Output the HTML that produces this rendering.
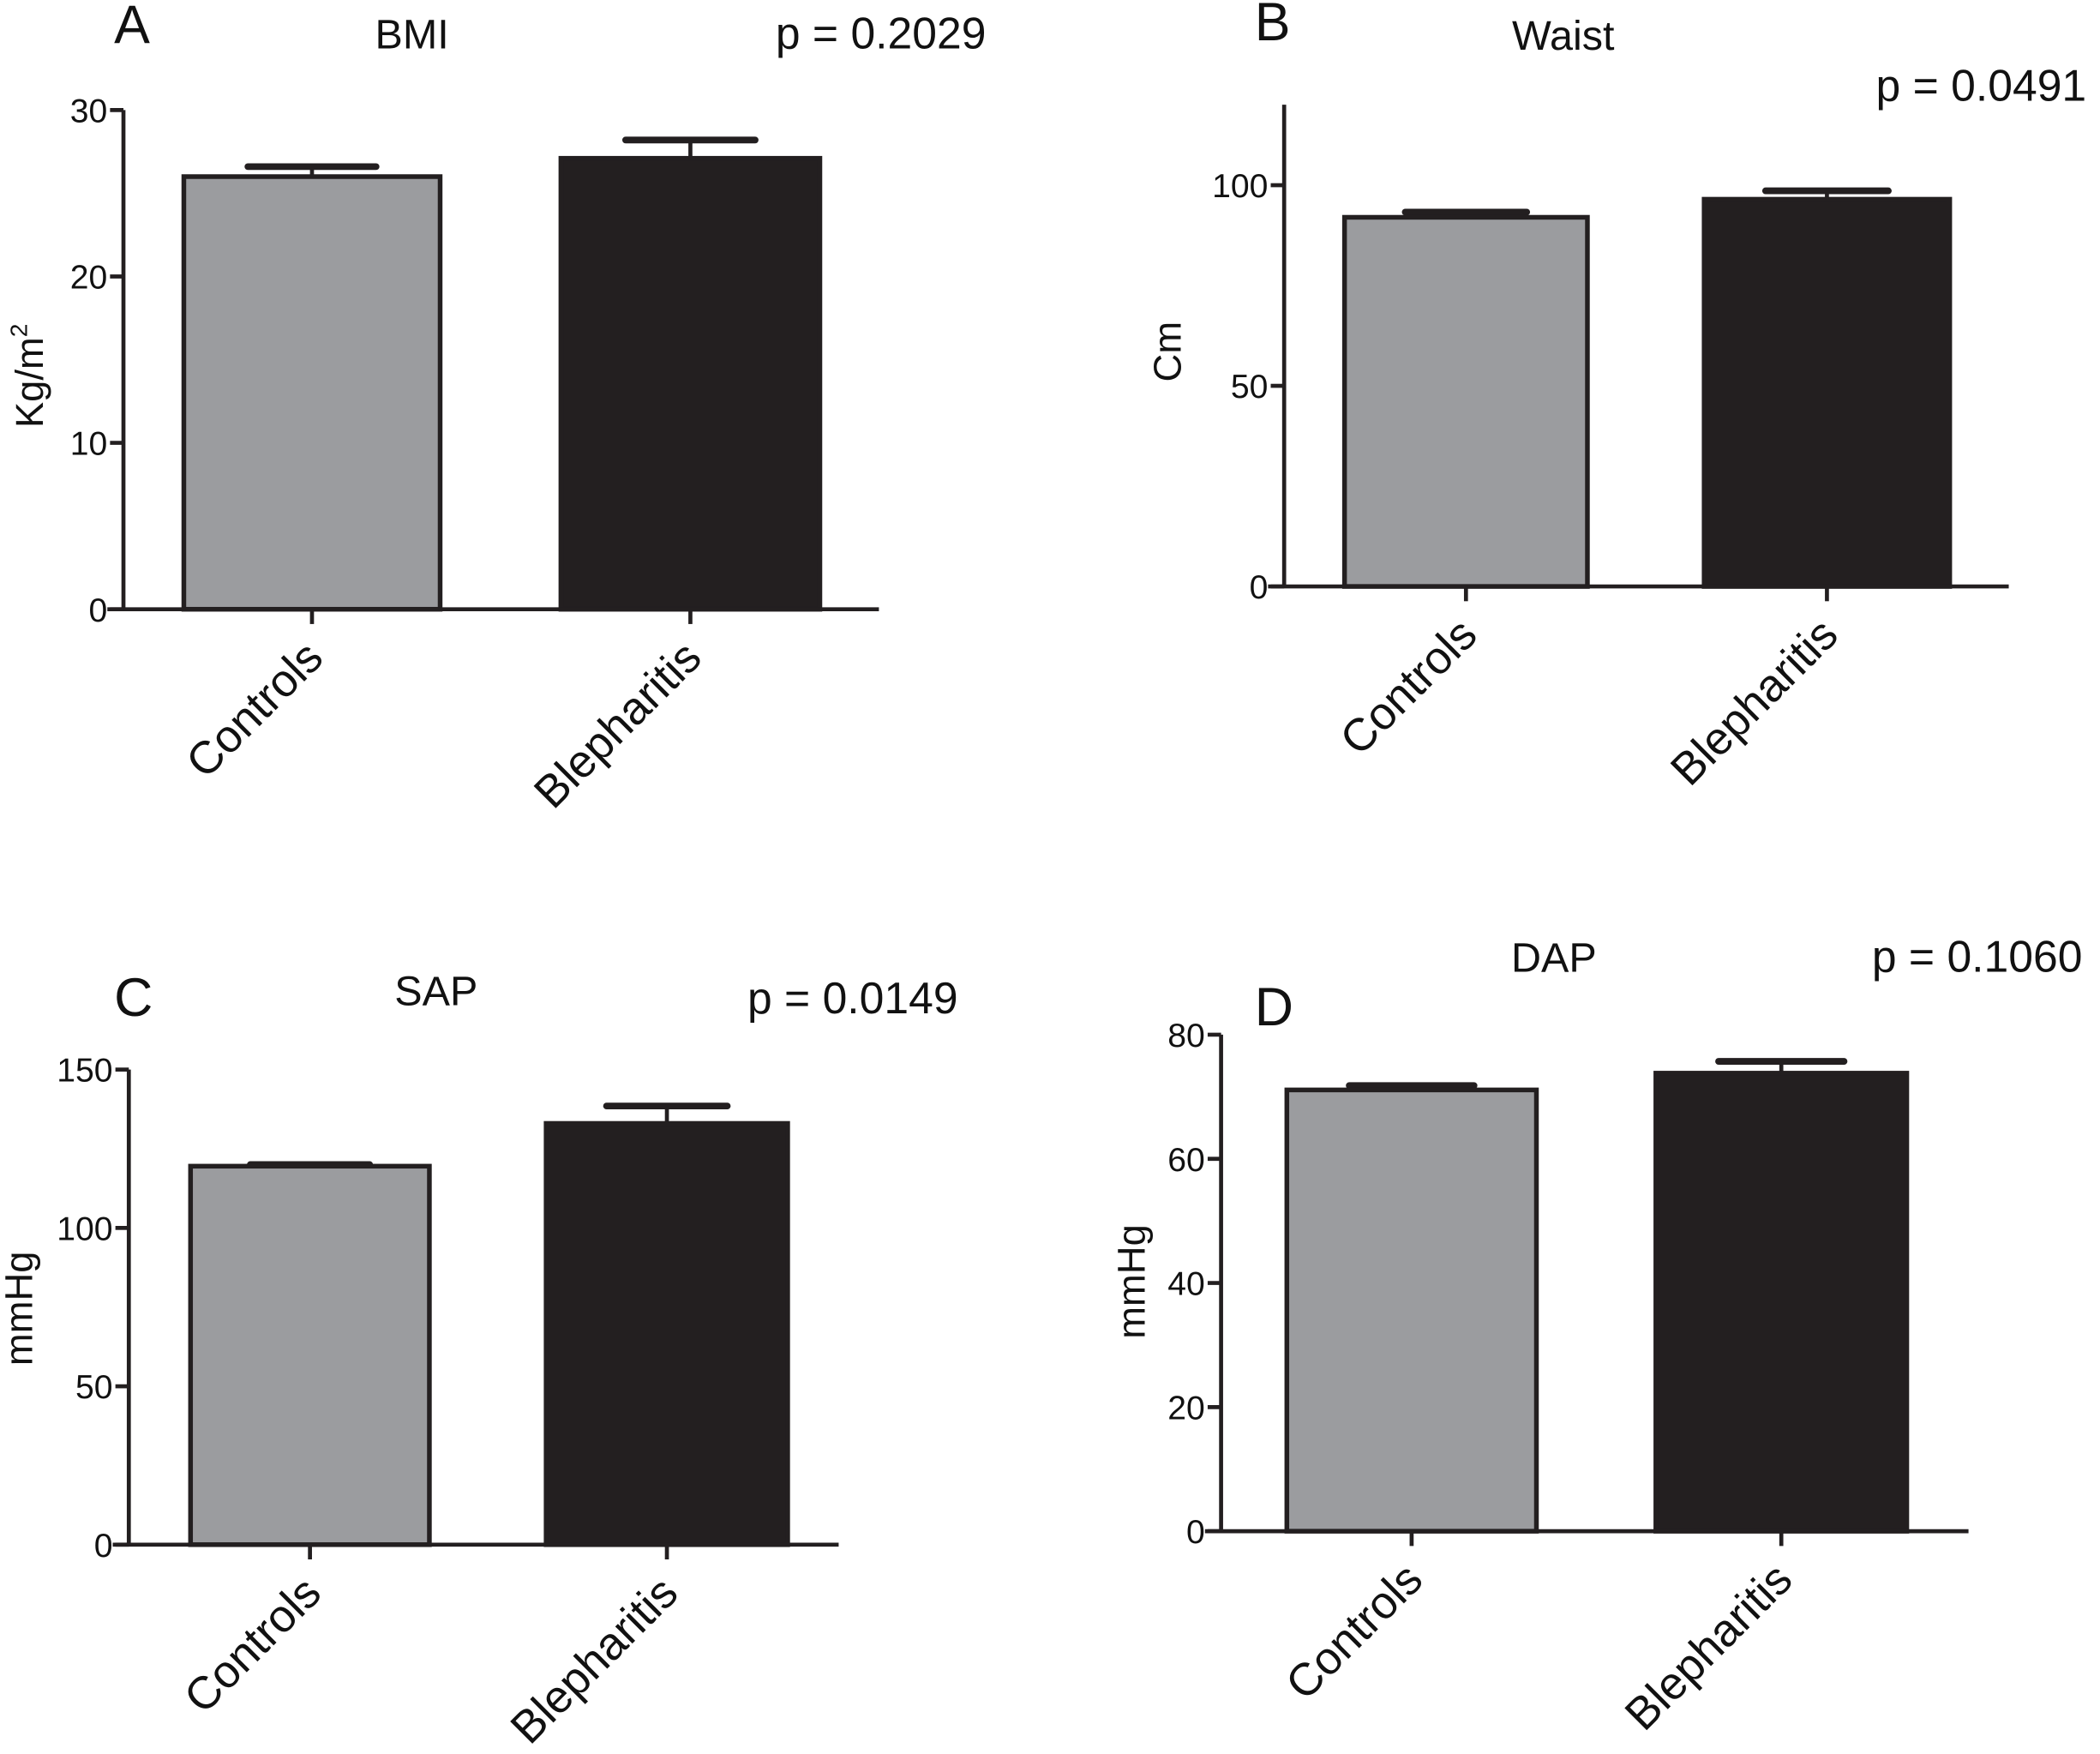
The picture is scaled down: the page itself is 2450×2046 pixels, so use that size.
<!DOCTYPE html>
<html><head><meta charset="utf-8"><style>
html,body{margin:0;padding:0;background:#fff}
svg{display:block}
text{font-family:"Liberation Sans",Arial,sans-serif;fill:#111}
</style></head><body>
<svg id="fig" width="2450" height="2046" viewBox="0 0 1565 1307" preserveAspectRatio="none" xmlns="http://www.w3.org/2000/svg"></svg>
<script>
const categories = ["Controls", "Blepharitis"];
const bmiValues = [26.0, 27.1];
const bmiErrors = [0.6, 1.1];
const waistValues = [92.0, 96.5];
const waistErrors = [1.3, 2.1];
const sapValues = [119.5, 133.0];
const sapErrors = [0.5, 5.5];
const dapValues = [71.1, 73.8];
const dapErrors = [0.7, 1.9];
const bmiTicks = [0, 10, 20, 30];
const waistTicks = [0, 50, 100];
const sapTicks = [0, 50, 100, 150];
const dapTicks = [0, 20, 40, 60, 80];

const panels = [
 {id:"bmi", letter:"A", title:"BMI", p:"p = 0.2029", ytitle:"Kg/m", sup:"2", values:bmiValues, errors:bmiErrors, ticks:bmiTicks, ymax:30,
  ax:92, y0:454, ytop:82, axTop:82, xEnd:655, bars:[[137,328],[418,611]], letterPos:[85,32], titlePos:[307,36], pPos:[578,36], ytPos:[32,280]},
 {id:"waist", letter:"B", title:"Waist", p:"p = 0.0491", ytitle:"Cm", values:waistValues, errors:waistErrors, ticks:waistTicks, ymax:100,
  ax:957, y0:437, ytop:138, axTop:78, xEnd:1497, bars:[[1002,1183],[1270,1453]], letterPos:[935,30], titlePos:[1165,37], pPos:[1398,75], ytPos:[880,262]},
 {id:"sap", letter:"C", title:"SAP", p:"p = 0.0149", ytitle:"mmHg", values:sapValues, errors:sapErrors, ticks:sapTicks, ymax:150,
  ax:96, y0:1151, ytop:797, axTop:797, xEnd:625, bars:[[142,320],[407,587]], letterPos:[85,757], titlePos:[325,749], pPos:[557,755], ytPos:[24,975]},
 {id:"dap", letter:"D", title:"DAP", p:"p = 0.1060", ytitle:"mmHg", values:dapValues, errors:dapErrors, ticks:dapTicks, ymax:80,
  ax:910, y0:1141, ytop:771, axTop:771, xEnd:1467, bars:[[959,1145],[1234,1421]], letterPos:[935,764], titlePos:[1158,724], pPos:[1395,724], ytPos:[853,955]}
];
const colors = ["#9b9c9f", "#231f20"];
const NS = "http://www.w3.org/2000/svg";
const svg = document.getElementById("fig");
function mk(tag, attrs, parent, txt){
  const e = document.createElementNS(NS, tag);
  for (const k in attrs) e.setAttribute(k, attrs[k]);
  if (txt !== undefined) e.textContent = txt;
  parent.appendChild(e); return e;
}
panels.forEach(pn => {
  const g = mk("g", {}, svg);
  
  
  const yScale = v => pn.y0 - (v / pn.ymax) * (pn.y0 - pn.ytop);
  let t;
  t = mk("text", {x:pn.letterPos[0], y:pn.letterPos[1], "font-size":40}, g, pn.letter);
  
  
  t = mk("text", {x:pn.titlePos[0], y:pn.titlePos[1], "font-size":31, "text-anchor":"middle"}, g, pn.title);
  
  
  t = mk("text", {x:pn.pPos[0], y:pn.pPos[1], "font-size":33}, g, pn.p);
  
  
  t = mk("text", {x:pn.ytPos[0], y:pn.ytPos[1], "font-size":29, "text-anchor":"middle", transform:`rotate(-90 ${pn.ytPos[0]} ${pn.ytPos[1]})`}, g, pn.ytitle);
  if (pn.sup) mk("tspan", {"font-size":18, dy:-12}, t, pn.sup);
  
  
  pn.bars.forEach((b, i) => {
    const v = pn.values[i], e = pn.errors[i];
    const cx = (b[0] + b[1]) / 2, top = yScale(v), et = yScale(v + e);
    const w = (b[1] - b[0]) * 0.5;
    const el = mk("line", {x1:cx, x2:cx, y1:top, y2:et, stroke:"#231f20", "stroke-width":3}, g);
    
    
    const cap = mk("line", {x1:cx - w/2, x2:cx + w/2, y1:et, y2:et, stroke:"#231f20", "stroke-width":5, "stroke-linecap":"round"}, g);
    
    
    const r = mk("rect", {x:b[0], y:top, width:b[1]-b[0], height:pn.y0-top, fill:colors[i], stroke:"#231f20", "stroke-width":3.5}, g);
    
    
    const tk = mk("line", {x1:cx, x2:cx, y1:pn.y0, y2:pn.y0+11, stroke:"#231f20", "stroke-width":3}, g);
    
    
    const lx = cx + 10, ly = pn.y0 + 38;
    const lab = mk("text", {x:lx, y:ly, "font-size":34, "text-anchor":"end", transform:`rotate(-45 ${lx} ${ly})`}, g, categories[i]);
    
    
  });
  let a = mk("line", {x1:pn.ax, x2:pn.ax, y1:pn.axTop, y2:pn.y0, stroke:"#231f20", "stroke-width":3}, g);
  
  
  a = mk("line", {x1:pn.ax - 12, x2:pn.xEnd, y1:pn.y0, y2:pn.y0, stroke:"#231f20", "stroke-width":3}, g);
  
  
  pn.ticks.forEach(tv => {
    const y = yScale(tv);
    const l = mk("line", {x1:pn.ax - 10, x2:pn.ax, y1:y, y2:y, stroke:"#231f20", "stroke-width":3}, g);
    
    
    const tl = mk("text", {x:pn.ax - 12, y:y + 9, "font-size":25, "text-anchor":"end"}, g, String(tv));
    
    
  });
});
</script>
</body></html>
